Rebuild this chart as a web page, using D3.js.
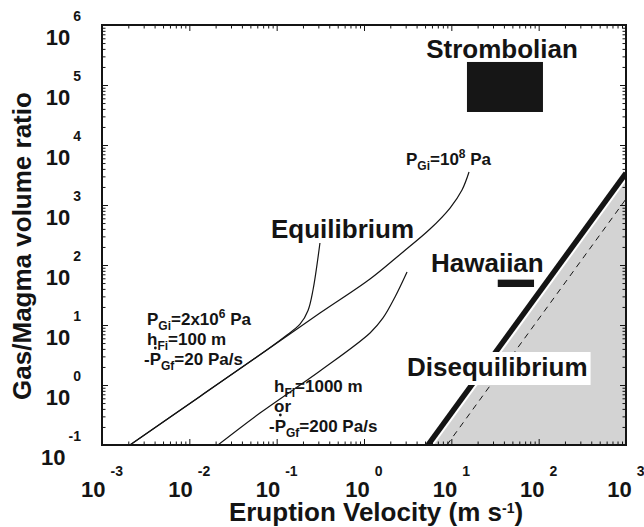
<!DOCTYPE html>
<html>
<head>
<meta charset="utf-8">
<script src="https://cdn.jsdelivr.net/npm/d3@7"></script>
<style>
  html, body { margin: 0; padding: 0; background: #fff; }
  svg { display: block; font-family: "Liberation Sans", Arial, Helvetica, sans-serif; font-weight: bold; }
</style>
</head>
<body>
<svg id="chart" width="644" height="527"></svg>
<script>
// Decades shown on each axis (exponents of ten)
const xExponents = [-3, -2, -1, 0, 1, 2, 3];
const yExponents = [-1, 0, 1, 2, 3, 4, 5, 6];

// Equilibrium model curves: [eruption velocity (m/s), gas/magma volume ratio]
const curveLowPressure = [
  [0.00209, 0.1], [0.01324, 0.646], [0.0644, 3.19], [0.1246, 6.45],
  [0.185, 10.3], [0.2286, 17.5], [0.2606, 38.3], [0.313, 233]
];
const curveHighPressure = [
  [0.00209, 0.1], [0.01324, 0.646], [0.0644, 3.19], [0.313, 15.8],
  [1.172, 58.4], [2.585, 150], [5.70, 398], [9.66, 891], [13.25, 1778], [15.94, 3548]
];
const curveDeepFoam = [
  [0.02128, 0.1], [0.0644, 0.341], [0.313, 1.71], [1.172, 7.36],
  [1.651, 13.1], [2.265, 29.3], [3.11, 76.4]
];

// Disequilibrium boundary, its dashed companion and the shaded field
const diseqBoundary = [[5.4, 0.1], [1000, 3400]];
const diseqDashed = [[8.9, 0.1], [1000, 1260]];
const diseqRegion = [[6.3, 0.1], [1000, 2500], [1000, 0.1]];

// Observed eruption styles: [vMin, vMax, ratioMin, ratioMax]
const strombolianBox = [15.1, 112, 3.55e4, 2.42e5];
const hawaiianBox = [34, 88.5, 43, 57];

// Curve annotations (rich text parts)
const labelLowPressure = [
  [{t: "P"}, {t: "Gi", s: "sub"}, {t: "=2x10"}, {t: "6", s: "sup"}, {t: " Pa"}],
  [{t: "h"}, {t: "Fi", s: "sub"}, {t: "=100 m"}],
  [{t: "-"}, {t: "P", dot: true}, {t: "Gf", s: "sub"}, {t: "=20 Pa/s"}]
];
const labelDeepFoam = [
  [{t: "h"}, {t: "Fi", s: "sub"}, {t: "=1000 m"}],
  [{t: "or"}],
  [{t: "-"}, {t: "P", dot: true}, {t: "Gf", s: "sub"}, {t: "=200 Pa/s"}]
];
const labelHighPressure = [{t: "P"}, {t: "Gi", s: "sub"}, {t: "=10"}, {t: "8", s: "sup"}, {t: " Pa"}];

const ink = "#141414";
const svg = d3.select("#chart");
const plot = {left: 102, right: 626, top: 25, bottom: 445};

const x = d3.scaleLog().domain([1e-3, 1e3]).range([plot.left, plot.right]);
const y = d3.scaleLog().domain([1e-1, 1e6]).range([plot.bottom, plot.top]);

svg.append("defs").append("clipPath").attr("id", "plot-clip")
  .append("rect")
  .attr("x", plot.left).attr("y", plot.top)
  .attr("width", plot.right - plot.left).attr("height", plot.bottom - plot.top);

const straight = d3.line().x(d => x(d[0])).y(d => y(d[1]));
const smooth = d3.line().x(d => x(d[0])).y(d => y(d[1])).curve(d3.curveCatmullRom.alpha(0.5));

const area = svg.append("g").attr("clip-path", "url(#plot-clip)");

// Disequilibrium field
area.append("path").attr("d", straight(diseqRegion) + "Z").attr("fill", "#d3d3d3");
area.append("path").attr("d", straight(diseqDashed))
  .attr("fill", "none").attr("stroke", ink).attr("stroke-width", 1).attr("stroke-dasharray", "6,5");
area.append("path").attr("d", straight(diseqBoundary))
  .attr("fill", "none").attr("stroke", ink).attr("stroke-width", 5.5);

// Model curves
[curveLowPressure, curveHighPressure, curveDeepFoam].forEach(c => {
  area.append("path").attr("d", smooth(c))
    .attr("fill", "none").attr("stroke", ink).attr("stroke-width", 1.2);
});

// Eruption style boxes
function styleBox(b) {
  area.append("rect")
    .attr("x", x(b[0])).attr("y", y(b[3]))
    .attr("width", x(b[1]) - x(b[0])).attr("height", y(b[2]) - y(b[3]))
    .attr("fill", "#161616");
}
styleBox(strombolianBox);
styleBox(hawaiianBox);

// Region and style names
const labels = svg.append("g").attr("fill", ink).attr("font-size", 26);
labels.append("text").attr("x", 502).attr("y", 58).attr("text-anchor", "middle").text("Strombolian");
labels.append("text").attr("x", 271).attr("y", 238).text("Equilibrium");
labels.append("text").attr("x", 431).attr("y", 272).text("Hawaiian");
const diseq = labels.append("text").attr("x", 407).attr("y", 376).text("Disequilibrium");
const bb = diseq.node().getBBox();
labels.insert("rect", () => diseq.node())
  .attr("x", bb.x - 3).attr("y", bb.y).attr("width", bb.width + 6).attr("height", bb.height + 3)
  .attr("fill", "#fff");

// Rich text with subscripts, superscripts and dotted P
function richText(g, x0, y0, parts, size) {
  const t = g.append("text").attr("x", x0).attr("y", y0).attr("font-size", size);
  let shift = 0, idx = 0;
  const dots = [];
  parts.forEach(p => {
    const target = p.s === "sub" ? 5 : p.s === "sup" ? -7 : 0;
    t.append("tspan").attr("dy", target - shift).attr("font-size", p.s ? 12 : size).text(p.t);
    if (p.dot) dots.push(idx);
    idx += p.t.length;
    shift = target;
  });
  dots.forEach(i => {
    const r = t.node().getExtentOfChar(i);
    g.append("circle").attr("cx", r.x + r.width / 2).attr("cy", y0 - 17).attr("r", 1.4).attr("fill", ink);
  });
  return t;
}

const notes = svg.append("g").attr("fill", ink);
labelLowPressure.forEach((line, i) => richText(notes, i === 2 ? 144 : 147, 325 + i * 20, line, 17));
labelDeepFoam.forEach((line, i) => richText(notes, i === 2 ? 269 : 274, 392 + i * 20, line, 17));
richText(notes, 406, 165, labelHighPressure, 17);

// Axes: inward major and minor ticks on all four sides
const minorX = d3.range(-3, 3).flatMap(e => d3.range(2, 10).map(k => k * Math.pow(10, e)));
const minorY = d3.range(-1, 6).flatMap(e => d3.range(2, 10).map(k => k * Math.pow(10, e)));
const majorX = xExponents.map(e => Math.pow(10, e));
const majorY = yExponents.map(e => Math.pow(10, e));

function tickLayer(axisFn, scale, values, size, transform) {
  svg.append("g").attr("transform", transform)
    .call(axisFn(scale).tickValues(values).tickSize(-size).tickFormat(() => ""))
    .call(g => g.select(".domain").remove())
    .call(g => g.selectAll(".tick line").attr("stroke", ink).attr("stroke-width", 1));
}
tickLayer(d3.axisBottom, x, majorX, 6, `translate(0,${plot.bottom})`);
tickLayer(d3.axisBottom, x, minorX, 3.5, `translate(0,${plot.bottom})`);
tickLayer(d3.axisTop, x, majorX, 6, `translate(0,${plot.top})`);
tickLayer(d3.axisTop, x, minorX, 3.5, `translate(0,${plot.top})`);
tickLayer(d3.axisLeft, y, majorY, 6, `translate(${plot.left},0)`);
tickLayer(d3.axisLeft, y, minorY, 3.5, `translate(${plot.left},0)`);
tickLayer(d3.axisRight, y, majorY, 6, `translate(${plot.right},0)`);
tickLayer(d3.axisRight, y, minorY, 3.5, `translate(${plot.right},0)`);

svg.append("rect")
  .attr("x", plot.left).attr("y", plot.top)
  .attr("width", plot.right - plot.left).attr("height", plot.bottom - plot.top)
  .attr("fill", "none").attr("stroke", ink).attr("stroke-width", 2);

// Tick labels as powers of ten
const expText = e => (e < 0 ? "-" + Math.abs(e) : String(e));
svg.append("g").attr("fill", ink).selectAll("text").data(xExponents).join("text")
  .attr("x", d => x(Math.pow(10, d))).attr("y", 497).attr("text-anchor", "middle")
  .each(function (d) {
    const t = d3.select(this);
    t.append("tspan").attr("font-size", 22).text("10");
    t.append("tspan").attr("font-size", 14).attr("dx", 5).attr("dy", -21).text(expText(d));
  });
svg.append("g").attr("fill", ink).selectAll("text").data(yExponents).join("text")
  .attr("x", 81).attr("y", d => y(Math.pow(10, d)) + 20).attr("text-anchor", "end")
  .each(function (d) {
    const t = d3.select(this);
    t.append("tspan").attr("font-size", 22).text("10");
    t.append("tspan").attr("font-size", 14).attr("dx", 3).attr("dy", -24).text(expText(d));
  });

// Axis titles
const xTitle = svg.append("text").attr("fill", ink).attr("font-size", 26)
  .attr("x", 376).attr("y", 521).attr("text-anchor", "middle");
xTitle.append("tspan").text("Eruption Velocity (m s");
xTitle.append("tspan").attr("font-size", 14).attr("dy", -8).text("-1");
xTitle.append("tspan").attr("dy", 8).text(")");

svg.append("text").attr("fill", ink).attr("font-size", 26)
  .attr("transform", "translate(31,246) rotate(-90)").attr("text-anchor", "middle")
  .text("Gas/Magma volume ratio");
</script>
</body>
</html>
